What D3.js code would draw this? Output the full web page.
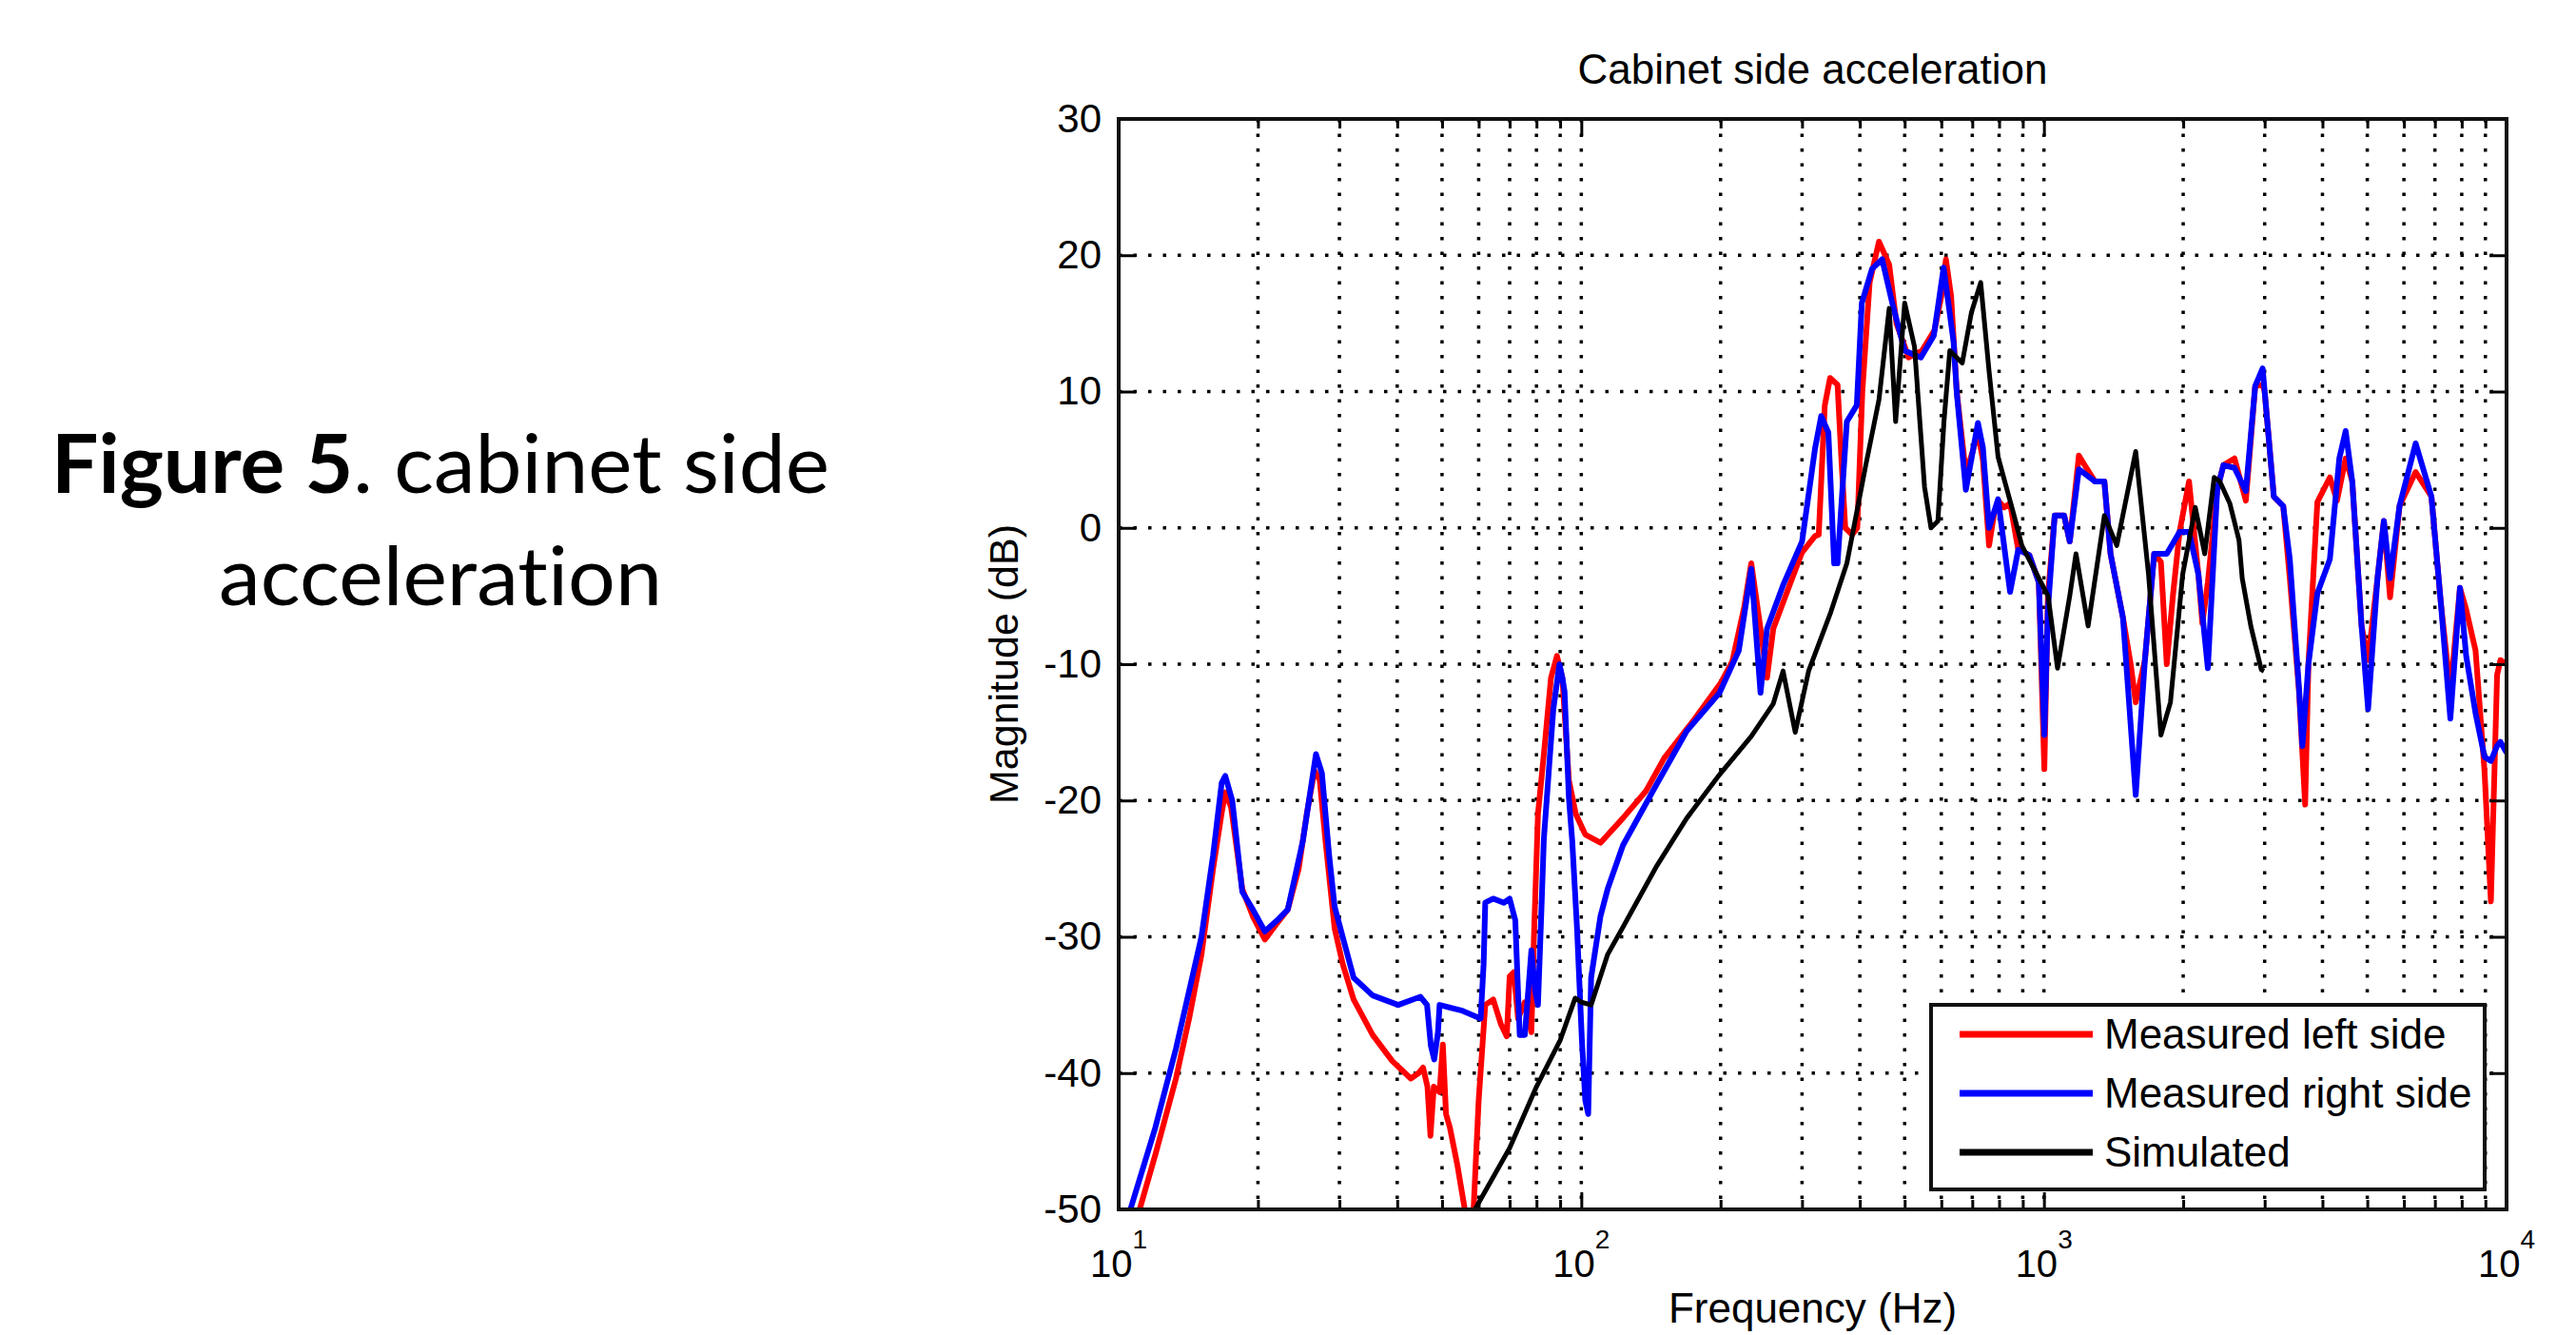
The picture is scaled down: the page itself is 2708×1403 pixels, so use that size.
<!DOCTYPE html>
<html>
<head>
<meta charset="utf-8">
<script src="https://cdn.jsdelivr.net/npm/d3@7"></script>
<style>
  body { margin: 0; background: #fff; }
  svg { display: block; }
  .axis text, .lbl { font-family: "Liberation Sans", Arial, sans-serif; fill: #000; }
  .cap { font-variant-ligatures: none; font-feature-settings: "liga" 0, "clig" 0; }
</style>
</head>
<body>
<svg id="chart" width="2708" height="1403"></svg>
<script>
"use strict";

// frequency (Hz), magnitude (dB)
var measuredLeft = [
  [10.5,-53],[11.1,-50],[12,-46],[13.3,-40.4],[14.2,-36],[15.1,-31.3],[16,-25],[16.7,-20.9],[17,-19.4],
  [17.5,-20.5],[18.5,-26.5],[19.5,-28.5],[20.7,-30.2],[22,-29],[23.2,-28],[24.5,-25],[25.5,-21],[26.5,-17.8],
  [27.2,-18.5],[28,-23],[29.3,-29.4],[30.5,-32],[32.2,-34.6],[35.4,-37.2],[39,-39.1],[42.8,-40.4],[44.5,-40],
  [45.5,-39.6],[46.5,-41],[47.2,-44.6],[48,-41],[49.4,-41.4],[50.2,-37.9],[51,-43],[52,-44],[54,-46.8],
  [56,-50],[57,-52],[58,-51],[58.5,-50],[60,-42],[62,-35],[64.5,-34.6],[67,-36.4],[69,-37.3],[70,-32.9],
  [71.5,-32.6],[73,-36],[75.5,-34.8],[78,-37],[79,-30],[80.6,-21],[83,-16.6],[86,-11],[88.6,-9.4],[91,-11],
  [94,-18.5],[97.3,-21],[102,-22.5],[110,-23.1],[123,-21.3],[138,-19.3],[151,-16.9],[175,-14.1],[200,-11.4],
  [212,-9.8],[225,-5.8],[233,-2.6],[244,-7.4],[252,-11],[260,-7.4],[282,-4.2],[300,-1.8],[320,-0.6],
  [326,-0.5],[336,9],[345,11],[358,10.5],[365,5],[372,0],[385,-0.5],[395,0],[405,10],[420,18],[440,21],
  [463,19.3],[480,15],[510,12.5],[545,13],[580,14.5],[600,17],[614,19.7],[630,17],[648,10],[678,4],
  [700,5.5],[720,7],[738,5],[761,-1.3],[780,1],[796,2],[820,1.5],[845,1.8],[880,-1.6],[930,-2],[975,-4],
  [1002,-17.7],[1020,-5],[1055,0.9],[1106,0.9],[1137,-1],[1190,5.3],[1230,4.5],[1290,3.4],[1351,3.4],
  [1393,-1.9],[1482,-6.6],[1540,-10],[1579,-12.8],[1653,-9.7],[1731,-1.9],[1790,-2.5],[1843,-10],[1900,-5],
  [1964,-0.3],[2059,3.4],[2157,-3.4],[2200,-7],[2261,-4],[2369,2.8],[2444,4.6],[2582,5.1],[2732,2],
  [2862,10.4],[2970,10.5],[3000,10],[3140,2.3],[3290,1.6],[3400,-3.7],[3560,-12],[3670,-20.3],[3730,-10],
  [3900,1.9],[4150,3.7],[4300,2],[4490,5.1],[4640,3.4],[4860,-7.2],[5020,-9.7],[5260,-3.7],[5430,0.5],
  [5600,-5.1],[5870,1.6],[6360,4.1],[6880,2.3],[7210,-5.5],[7560,-12],[7930,-4.4],[8180,-6],[8570,-9],
  [8960,-17.8],[9250,-27.4],[9540,-10.8],[9700,-9.7],[10000,-10]
];

var measuredRight = [
  [10.2,-53],[10.6,-50],[12,-44],[13.3,-38.2],[15.1,-30],[16,-24],[16.7,-18.7],[17,-18.2],[17.6,-20],
  [18.5,-26.7],[19.5,-28],[20.7,-29.6],[22,-28.8],[23.2,-28],[25,-23],[26.7,-16.6],[27.5,-18],[28.5,-24],
  [29.3,-27.8],[32.2,-33],[35.4,-34.3],[40.2,-35],[44.9,-34.4],[46.4,-35],[47.3,-38],[48.1,-39],[49,-37],
  [49.4,-35],[55,-35.4],[60.6,-36],[61.5,-32],[62,-27.5],[64.5,-27.2],[68,-27.5],[70,-27.2],[72,-28.8],
  [73.6,-37.2],[75.5,-37.2],[78,-31],[79.5,-34],[80.6,-35],[82,-28],[83,-22.8],[87,-13.3],[89.7,-10],
  [91,-11],[92,-12],[94,-19.8],[95.6,-23],[97.9,-29.4],[100.3,-37.6],[102,-42],[103.5,-43],[105,-33],
  [110,-28.5],[114,-26.5],[123,-23.3],[145,-18.9],[169,-14.9],[199,-12.1],[219,-9],[233,-3],[244,-12.1],
  [252,-7.4],[273,-4.2],[300,-1],[320,5.8],[330,8.2],[342,7],[352,-2.6],[358,-2.6],[375,7.8],[394,9],
  [404,16.5],[425,19],[447,19.7],[470,16.5],[500,13],[542,12.5],[578,14.1],[607,19.1],[638,13.6],[648,9.9],
  [678,2.8],[720,7.7],[738,5.9],[761,0],[796,2.1],[845,-4.7],[880,-1.6],[930,-2],[975,-4],[1002,-15.2],
  [1020,-6],[1055,0.9],[1106,0.9],[1137,-1],[1190,4.3],[1290,3.4],[1351,3.4],[1393,-1.9],[1482,-6.6],
  [1579,-19.6],[1653,-9.7],[1731,-1.9],[1843,-1.9],[1964,-0.3],[2059,-0.3],[2157,-3.4],[2261,-10.3],
  [2369,2.8],[2444,4.6],[2582,4.4],[2732,2.7],[2862,10.4],[2970,11.7],[3140,2.3],[3290,1.6],[3400,-2.3],
  [3560,-11.8],[3620,-16],[3730,-10],[3900,-4.8],[4150,-2.3],[4350,5.1],[4490,7.1],[4640,3.4],[4860,-7.2],
  [5020,-13.3],[5260,-3.7],[5430,0.5],[5600,-3.7],[5870,1.6],[6360,6.2],[6880,2.3],[7210,-5.5],[7560,-14],
  [7930,-4.4],[8180,-9.4],[8570,-13.6],[8960,-16.8],[9250,-17.1],[9540,-16],[9700,-15.7],[10000,-16.5]
];

var simulated = [
  [58.9,-50],[70,-45.5],[80,-41],[90,-37.6],[97,-34.5],[100,-34.8],[105,-35],[114,-31.3],[123,-29.3],
  [145,-24.9],[169,-21.3],[199,-18.1],[233,-15.3],[260,-12.9],[273,-10.5],[290,-15],[310,-10.5],[346,-6.2],
  [375,-2.6],[412,4.6],[440,9.4],[463,16.1],[478,7.8],[500,16.5],[525,13.3],[552,3],[570,0],[590,0.5],
  [608,7.8],[626,13],[666,12.1],[697,15.8],[730,18],[761,11.5],[796,5.2],[862,0.9],[896,-1.3],[1021,-5],
  [1070,-10.3],[1137,-5],[1173,-1.9],[1246,-7.2],[1351,0.9],[1437,-1.3],[1579,5.6],[1683,-3.4],[1790,-15.2],
  [1877,-12.8],[1995,-3.4],[2124,1.5],[2226,-1.9],[2334,3.7],[2400,3.4],[2522,1.8],[2640,-0.9],[2683,-3.7],
  [2800,-7.2],[2950,-10.4],[2990,-10.5]
];

var series = [
  {name: 'Measured left side', color: '#ff0000', width: 6, values: measuredLeft},
  {name: 'Measured right side', color: '#0000ff', width: 6, values: measuredRight},
  {name: 'Simulated', color: '#000000', width: 5, values: simulated}
];

var xDomain = [10, 10000];
var yDomain = [-50, 30];
var majorX = [10, 100, 1000, 10000];
var yTicks = [-50, -40, -30, -20, -10, 0, 10, 20, 30];

var plot = {left: 1176, right: 2635, top: 125, bottom: 1271};

var svg = d3.select('#chart');

var x = d3.scaleLog().domain(xDomain).range([plot.left, plot.right]);
var y = d3.scaleLinear().domain(yDomain).range([plot.bottom, plot.top]);

// minor ticks = log ticks that are not powers of ten
var minorX = x.ticks().filter(function(v){ return majorX.indexOf(v) < 0 });

//dotted grid
var grid = svg.append('g').attr('stroke', '#000').attr('stroke-width', 3.5)
              .attr('stroke-dasharray', '3.5,12');
grid.selectAll('.vg')
    .data(x.ticks().filter(function(v){ return v > xDomain[0] && v < xDomain[1] }))
    .enter().append('line')
    .attr('x1', function(d){ return x(d) }).attr('x2', function(d){ return x(d) })
    .attr('y1', plot.top).attr('y2', plot.bottom);
grid.selectAll('.hg')
    .data(yTicks.filter(function(v){ return v > yDomain[0] && v < yDomain[1] }))
    .enter().append('line')
    .attr('y1', function(d){ return y(d) }).attr('y2', function(d){ return y(d) })
    .attr('x1', plot.left).attr('x2', plot.right);

// curves
svg.append('clipPath').attr('id', 'clip')
   .append('rect')
   .attr('x', plot.left).attr('y', plot.top)
   .attr('width', plot.right - plot.left).attr('height', plot.bottom - plot.top);

var line = d3.line()
  .x(function(d){ return x(d[0]) })
  .y(function(d){ return y(d[1]) });

svg.append('g').attr('clip-path', 'url(#clip)')
   .selectAll('path')
   .data(series)
   .enter().append('path')
   .attr('d', function(s){ return line(s.values) })
   .attr('fill', 'none')
   .attr('stroke', function(s){ return s.color })
   .attr('stroke-width', function(s){ return s.width })
   .attr('stroke-linejoin', 'round');

// axes, ticks pointing inwards on all four sides
function tidy(g){
  g.select('.domain').remove();
  g.selectAll('.tick line').attr('stroke', '#000').attr('stroke-width', 3);
}

svg.append('g').attr('transform', 'translate(0,' + plot.bottom + ')')
   .call(d3.axisBottom(x).tickValues(majorX).tickSize(-18).tickFormat('')).call(tidy);
svg.append('g').attr('transform', 'translate(0,' + plot.bottom + ')')
   .call(d3.axisBottom(x).tickValues(minorX).tickSize(-10).tickFormat('')).call(tidy);
svg.append('g').attr('transform', 'translate(0,' + plot.top + ')')
   .call(d3.axisTop(x).tickValues(majorX).tickSize(-18).tickFormat('')).call(tidy);
svg.append('g').attr('transform', 'translate(0,' + plot.top + ')')
   .call(d3.axisTop(x).tickValues(minorX).tickSize(-10).tickFormat('')).call(tidy);

// plain hyphen for negatives, like the original
svg.append('g').attr('class', 'axis')
   .attr('transform', 'translate(' + plot.left + ',0)')
   .call(d3.axisLeft(y).tickValues(yTicks).tickSize(-18).tickPadding(18)
           .tickFormat(function(d){ return String(d) }))
   .call(tidy)
   .selectAll('text')
   .attr('font-size', 42)
   .attr('font-family', '"Liberation Sans", Arial, sans-serif');
svg.append('g').attr('transform', 'translate(' + plot.right + ',0)')
   .call(d3.axisRight(y).tickValues(yTicks).tickSize(-18).tickFormat('')).call(tidy);

// 10^n labels
var xLabels = svg.append('g').attr('class', 'axis');
majorX.forEach(function(v){
  var t = xLabels.append('text')
    .attr('x', x(v)).attr('y', 1342)
    .attr('text-anchor', 'middle');
  t.append('tspan').attr('font-size', 40).text('10');
  t.append('tspan').attr('font-size', 28).attr('dy', -30).text(Math.round(Math.log10(v)));
});

// box
svg.append('rect')
   .attr('x', plot.left).attr('y', plot.top)
   .attr('width', plot.right - plot.left).attr('height', plot.bottom - plot.top)
   .attr('fill', 'none').attr('stroke', '#111').attr('stroke-width', 4);

// titles
svg.append('text').attr('class', 'lbl')
   .attr('x', (plot.left + plot.right) / 2).attr('y', 88)
   .attr('text-anchor', 'middle').attr('font-size', 44)
   .text('Cabinet side acceleration');
svg.append('text').attr('class', 'lbl')
   .attr('x', (plot.left + plot.right) / 2).attr('y', 1390)
   .attr('text-anchor', 'middle').attr('font-size', 44)
   .text('Frequency (Hz)');
svg.append('text').attr('class', 'lbl')
   .attr('transform', 'translate(1070,' + (plot.top + plot.bottom) / 2 + ') rotate(-90)')
   .attr('text-anchor', 'middle').attr('font-size', 43)
   .text('Magnitude (dB)');

// legend
var legend = svg.append('g');
legend.append('rect')
      .attr('x', 2030).attr('y', 1056).attr('width', 582).attr('height', 194)
      .attr('fill', '#fff').attr('stroke', '#111').attr('stroke-width', 4);
var rows = legend.selectAll('.row')
      .data(series)
      .enter().append('g')
      .attr('transform', function(s, i){ return 'translate(0,' + (1087 + i * 62) + ')' });
rows.append('line')
    .attr('x1', 2060).attr('x2', 2200)
    .attr('stroke', function(s){ return s.color })
    .attr('stroke-width', 7);
rows.append('text').attr('class', 'lbl')
    .attr('x', 2212).attr('y', 15)
    .attr('font-size', 44)
    .text(function(s){ return s.name });

// caption on the left
var cap1 = svg.append('text').attr('class', 'cap')
   .attr('x', 54).attr('y', 518)
   .attr('font-family', 'Lato, "Open Sans", sans-serif').attr('font-size', 86)
   .attr('textLength', 818).attr('lengthAdjust', 'spacingAndGlyphs');
cap1.append('tspan').attr('font-weight', 'bold').text('Figure 5');
cap1.append('tspan').text('. cabinet side');
svg.append('text').attr('class', 'cap')
   .attr('x', 230).attr('y', 636)
   .attr('font-family', 'Lato, "Open Sans", sans-serif').attr('font-size', 86)
   .attr('textLength', 466).attr('lengthAdjust', 'spacingAndGlyphs')
   .text('acceleration');
</script>
</body>
</html>
